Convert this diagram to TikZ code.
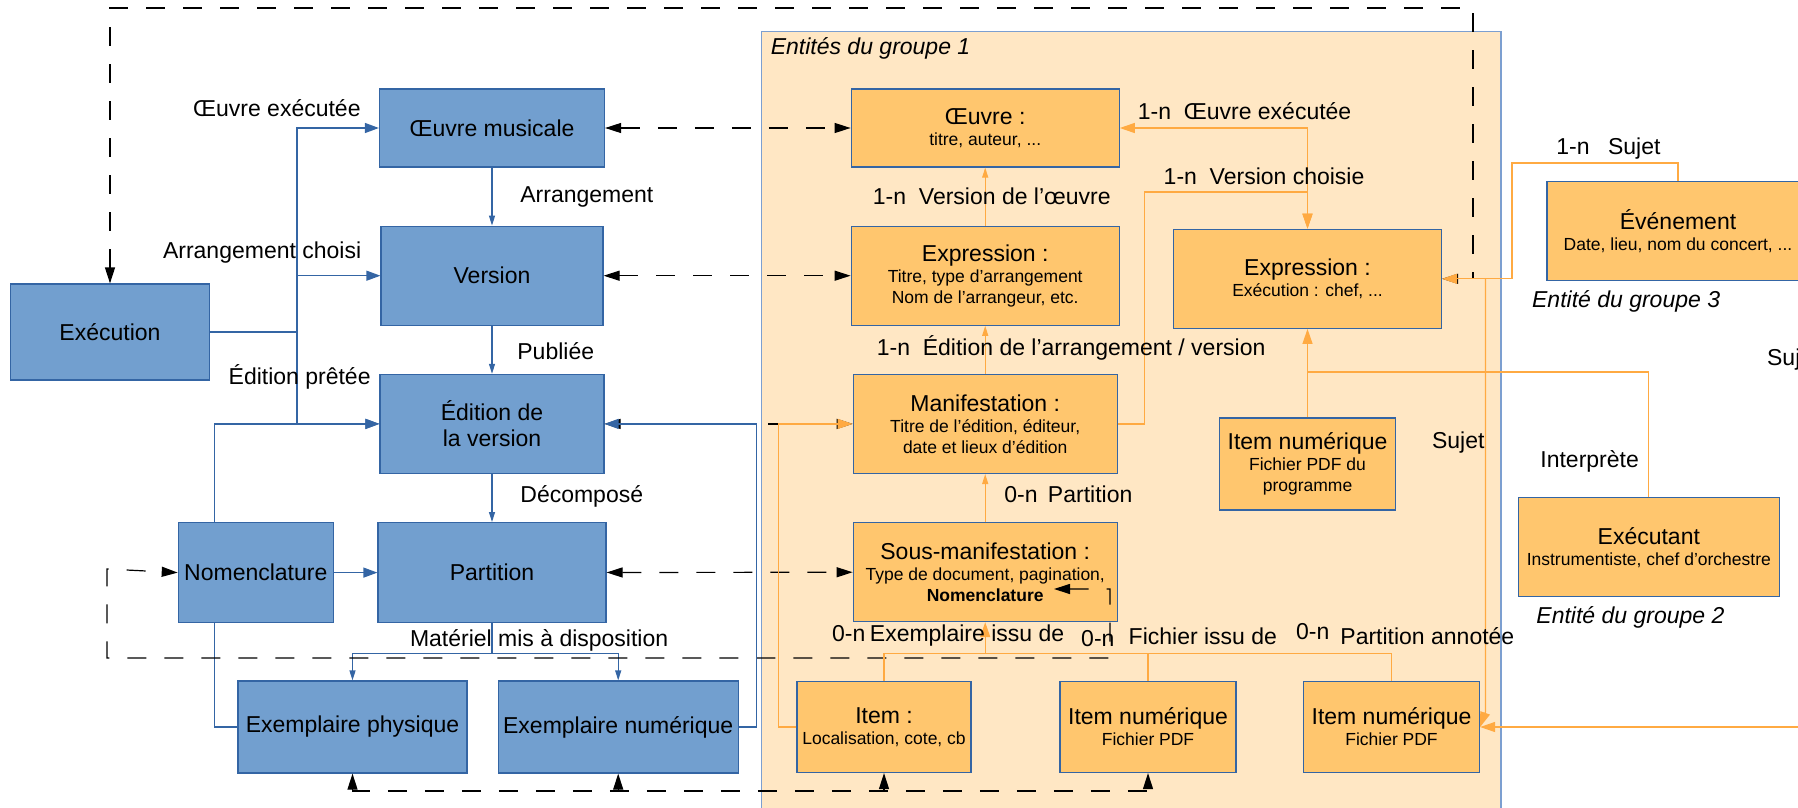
\documentclass[tikz,border=0pt]{standalone}
\usepackage{fontspec}
\setmainfont{Liberation Sans}
\usetikzlibrary{arrows.meta,positioning}

\definecolor{blueFill}{HTML}{729FCF}
\definecolor{blueLine}{HTML}{3465A4}
\definecolor{orangeFill}{HTML}{FFC66E}
\definecolor{orangeLine}{HTML}{FFAA42}
\definecolor{groupFill}{HTML}{FFE7C4}
\definecolor{groupLine}{HTML}{7C9FD0}

\newcommand{\titlesize}{\fontsize{11.5}{13}\selectfont}
\newcommand{\detailsize}{\fontsize{8.75}{10.5}\selectfont}

\begin{document}
\begin{tikzpicture}[
  x=0.5pt,
  y=-0.5pt,
  bluebox/.style={
    rectangle,
    draw=blueLine,
    fill=blueFill,
    line width=0.6pt,
    text=black,
    font=\titlesize,
    align=center,
    inner sep=2pt
  },
  entbox/.style={
    rectangle,
    draw=blueLine,
    fill=orangeFill,
    line width=0.6pt,
    text=black,
    font=\detailsize,
    align=center,
    inner sep=2pt
  },
  groupbox/.style={
    rectangle,
    draw=groupLine,
    fill=groupFill,
    line width=0.8pt,
    anchor=north west
  },
  lbl/.style={font=\titlesize, inner sep=0pt},
  grouplbl/.style={font=\titlesize\itshape, inner sep=0pt},
  bline/.style={draw=blueLine, line width=0.6pt},
  barrow/.style={bline, >={Triangle[length=7pt,width=5pt]}, ->},
  bsmall/.style={bline, >={Triangle[length=5pt,width=3pt]}, ->},
  oline/.style={draw=orangeLine, line width=0.6pt},
  oarrow/.style={oline, >={Triangle[length=7.5pt,width=5pt]}, ->},
  osmall/.style={oline, >={Triangle[length=5pt,width=3pt]}, ->},
  dashlink/.style={draw=black, line width=0.6pt, dash pattern=on 9.5pt off 9pt,
    >={Triangle[length=8pt,width=5pt]}, <->},
  dashtip/.style={dashlink, ->}
]
\useasboundingbox (0,0) rectangle (1798,808);

% Group 1 frame
\node[groupbox, minimum width=369.7pt, minimum height=400pt] (group1) at (760.6,30.7) {};
\node[grouplbl, anchor=west] at (770.4,48.3) {Entités du groupe 1};

% Left column
\node[bluebox, minimum width=112.5pt, minimum height=39pt] (oeuvreM) at (492,128) {Œuvre musicale};
\node[bluebox, minimum width=111pt, minimum height=49.5pt, below=29pt of oeuvreM] (version) {Version};
\node[bluebox, minimum width=112pt, minimum height=49.5pt, below=24pt of version] (edition) {Édition de\\la version};
\node[bluebox, minimum width=114pt, minimum height=50pt, below=24pt of edition] (partition) {Partition};
\node[bluebox, minimum width=77.5pt, minimum height=50pt, left=21.75pt of partition] (nomencl) {Nomenclature};
\node[bluebox, minimum width=99.5pt, minimum height=48pt] (execution) at (110,332) {Exécution};
\node[bluebox, minimum width=114.5pt, minimum height=46pt] (exphys) at (352.5,727) {Exemplaire physique};
\node[bluebox, minimum width=120pt, minimum height=46pt, right=15pt of exphys] (exnum) {Exemplaire numérique};

% Group 1 entities
\node[entbox, minimum width=134pt, minimum height=39pt, right=122.75pt of oeuvreM] (oeuvre) {{\titlesize Œuvre :}\\ titre, auteur, ...};
\node[entbox, minimum width=134pt, minimum height=49.5pt, below=29pt of oeuvre] (exprG) {{\titlesize Expression :}\\ Titre, type d’arrangement\\ Nom de l’arrangeur, etc.};
\node[entbox, minimum width=132pt, minimum height=49.5pt, below=24pt of exprG] (manif) {{\titlesize Manifestation :}\\ Titre de l’édition, éditeur,\\ date et lieux d’édition};
\node[entbox, minimum width=132pt, minimum height=49.5pt, below=24pt of manif] (sousmanif) {{\titlesize Sous-manifestation :}\\ Type de document, pagination,\\ \textbf{Nomenclature}};
\node[entbox, minimum width=87pt, minimum height=45.5pt] (item) at (884,727) {{\titlesize Item :}\\ Localisation, cote, cb};
\node[entbox, minimum width=88pt, minimum height=45.5pt, right=43.9pt of item] (itemnum) {{\titlesize Item numérique}\\ Fichier PDF};
\node[entbox, minimum width=88pt, minimum height=45.5pt, right=33.15pt of itemnum] (itemann) {{\titlesize Item numérique}\\ Fichier PDF};
\node[entbox, minimum width=134pt, minimum height=49.5pt] (exprE) at (1307.5,278.8) {{\titlesize Expression :}\\ Exécution : chef, ...};
\node[entbox, minimum width=88pt, minimum height=46pt, below=44.2pt of exprE] (itemprog) {{\titlesize Item numérique}\\ Fichier PDF du\\ programme};

% Groups 3 and 2
\node[entbox, minimum width=131pt, minimum height=49.5pt] (evenement) at (1678,231) {{\titlesize Événement}\\ Date, lieu, nom du concert, ...};
\node[grouplbl, anchor=west] at (1531.7,301.7) {Entité du groupe 3};
\node[entbox, minimum width=130.5pt, minimum height=49.5pt] (executant) at (1648.8,547.2) {{\titlesize Exécutant}\\ Instrumentiste, chef d’orchestre};
\node[grouplbl, anchor=west] at (1536,617.3) {Entité du groupe 2};

% Blue links
\coordinate (execsplit) at (297,332);
\draw[bline] (execution.east) -- (execsplit);
\draw[barrow] (execsplit) |- (oeuvreM.west);
\draw[barrow] (execsplit) |- (version.west);
\draw[barrow] (execsplit) |- (edition.west);
\draw[barrow] ([xshift=18.5pt]nomencl.north west) |- (edition.west);
\draw[barrow] (nomencl.east) -- (partition.west);
\draw[bline] (exphys.west) -| ([xshift=18.5pt]nomencl.south west);
\draw[bsmall] (oeuvreM) -- (version);
\draw[bsmall] (version) -- (edition);
\draw[bsmall] (edition) -- (partition);
\draw[bsmall] (partition.south) -- ++(0,30) -| (exphys.north);
\draw[bsmall] (partition.south) -- ++(0,30) -| (exnum.north);

\node[lbl, anchor=east] at (361,108) {Œuvre exécutée};
\node[lbl, anchor=east] at (361.6,252.3) {Arrangement choisi};
\node[lbl, anchor=east] at (371,376.7) {Édition prêtée};
\node[lbl, anchor=west] at (520,197) {Arrangement};
\node[lbl, anchor=west] at (517,351) {Publiée};
\node[lbl, anchor=west] at (520,496) {Décomposé};
\node[lbl, anchor=west] at (409.6,640) {Matériel mis à disposition};

% Dashed correspondences
\draw[dashlink] (oeuvreM) -- (oeuvre);
\draw[dashlink] (version) -- (exprG);
\draw[dashlink] (edition) -- (manif);
\draw[dashlink] (partition) -- (sousmanif);
\coordinate (loopcorner) at (1473,8);
\draw[dashlink] (execution.north) |- (loopcorner) |- (exprE.east);
\coordinate (nomtip) at (1054,589);
\coordinate (nomturn) at (1110,658);
\coordinate (nomback) at (107,569);
\draw[dashlink] (nomtip) -| (nomturn) -| (nomback) -- (nomencl.west);
\coordinate (botline) at (0,791);
\draw[dashlink] (exphys.south) |- (botline -| itemnum.south) -- (itemnum.south);
\draw[dashtip] (botline -| exnum.south) -- (exnum.south);
\draw[dashtip] (botline -| item.south) -- (item.south);

\draw[barrow] (exnum.east) -- ++(18,0) |- (edition.east);

% Orange links
\draw[osmall] (exprG) -- (oeuvre);
\draw[osmall] (manif) -- (exprG);
\draw[osmall] (sousmanif) -- (manif);
\coordinate (itembus) at ([yshift=-15.5pt]sousmanif.south);
\draw[oarrow] (item.north) |- (itembus) -- (sousmanif.south);
\draw[oline] (itemnum.north) |- (itembus);
\draw[oline] (itemann.north) |- (itembus);
\draw[oarrow] (item.west) -- ++(-18,0) |- (manif.west);
\coordinate (vcjoin) at (1307.5,192);
\draw[oarrow] (manif.east) -- ++(27,0) |- (vcjoin) -- (exprE.north);
\draw[oarrow, <->] (oeuvre.east) -| (exprE.north);
\coordinate (interjoin) at (1307.5,372);
\draw[oarrow] (itemprog.north) -- (exprE.south);
\draw[oline] (executant.north) |- (interjoin);
\coordinate (sujetturn) at (1512,163);
\draw[oarrow] (evenement.north) |- (sujetturn) |- (exprE.east);
\coordinate (sujetsplit) at (1485.5,278.8);
\draw[oarrow] (sujetsplit) -- ++(0,433) -- (itemann.east);
\coordinate (sujetfar) at (1800,727);
\draw[oarrow] (sujetfar) -- (itemann.east);

\node[lbl, anchor=west] at (872.5,196.7) {1-n\ \ Version de l’œuvre};
\node[lbl, anchor=west] at (876.4,347.7) {1-n\ \ Édition de l’arrangement / version};
\node[lbl, anchor=west] at (1004,494.3) {0-n\hspace{0.45em}Partition};
\node[lbl, anchor=west] at (831.7,636) {0-n\hspace{0.2em}Exemplaire issu de};
\node[lbl, anchor=west] at (1080.8,638.3) {0-n};
\node[lbl, anchor=west] at (1128.3,636) {Fichier issu de};
\node[lbl, anchor=west] at (1295.7,631.7) {0-n};
\node[lbl, anchor=west] at (1340,636) {Partition annotée};
\node[lbl, anchor=west] at (1137.4,111) {1-n\ \ Œuvre exécutée};
\node[lbl, anchor=west] at (1163.3,176.7) {1-n\ \ Version choisie};
\node[lbl, anchor=west] at (1431.7,442.7) {Sujet};
\node[lbl, anchor=west] at (1540,461) {Interprète};
\node[lbl, anchor=west] at (1556,148.3) {1-n\hspace{0.8em}Sujet};
\node[lbl, anchor=west] at (1766.7,360) {Sujet};

\end{tikzpicture}
\end{document}
